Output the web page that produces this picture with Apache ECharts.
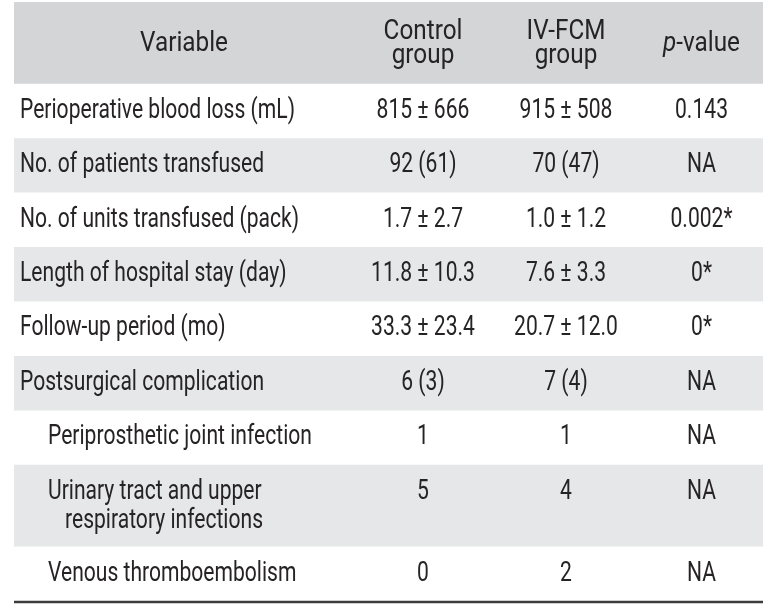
<!DOCTYPE html>
<html>
<head>
<meta charset="utf-8">
<script src="https://cdn.jsdelivr.net/npm/echarts@6/dist/echarts.min.js"></script>
<style>
html,body{margin:0;padding:0;background:#fff;}
#chart{width:781px;height:609px;}
</style>
</head>
<body>
<div id="chart"></div>
<script>
// ---- data ----
const headers = ['Variable', 'Control\ngroup', 'IV-FCM\ngroup', '{i|p}-value'];
const categories = [
  'Perioperative blood loss (mL)',
  'No. of patients transfused',
  'No. of units transfused (pack)',
  'Length of hospital stay (day)',
  'Follow-up period (mo)',
  'Postsurgical complication',
  'Periprosthetic joint infection',
  'Urinary tract and upper\nrespiratory infections',
  'Venous thromboembolism'
];
const indentLevels = [0, 0, 0, 0, 0, 0, 1, 1, 1];
const controlGroup = ['815 ± 666', '92 (61)', '1.7 ± 2.7', '11.8 ± 10.3', '33.3 ± 23.4', '6 (3)', '1', '5', '0'];
const ivfcmGroup = ['915 ± 508', '70 (47)', '1.0 ± 1.2', '7.6 ± 3.3', '20.7 ± 12.0', '7 (4)', '1', '4', '2'];
const pValues = ['0.143', 'NA', '0.002*', '0*', '0*', 'NA', 'NA', 'NA', 'NA'];

// ---- layout / style ----
const colWidths = [340, 138, 148, 123];
const FONT = "Roboto, 'DejaVu Sans Condensed', sans-serif";
const FW = 400;
const FS = 27;
const FS_HEAD = 28;
const TEXT = '#262324';
const HEAD_FILL = '#d4d5d7';
const BAND_FILL = '#e6e7e8';

// horizontal condensation so the face matches the condensed original
const cv = document.createElement('canvas').getContext('2d');
cv.font = FW + ' ' + FS + 'px ' + FONT;
const SX = 275 / cv.measureText('Perioperative blood loss (mL)').width;
cv.font = FW + ' ' + FS_HEAD + 'px ' + FONT;
const SX_HEAD = 88 / cv.measureText('Variable').width;

// build rows: header + body
const rows = [headers].concat(categories.map((c, i) => [c, controlGroup[i], ivfcmGroup[i], pValues[i]]));
const rowUnits = rows.map(r => {
  const lines = Math.max.apply(null, r.map(t => t.split('\n').length));
  return 1 + 0.5 * (lines - 1);
});
const data = [];
let acc = 0;
rowUnits.forEach((u, i) => { data.push([0, acc, acc + u, i]); acc += u; });
const totalUnits = acc;
const totalWidth = colWidths.reduce((a, b) => a + b, 0);

function txtEl(text, x, y, align, fs, sx, lineHeight) {
  return {
    type: 'text', x: x, y: y, scaleX: sx,
    style: {
      text: text, x: 0, y: 0, align: align, verticalAlign: 'middle',
      font: FW + ' ' + fs + 'px ' + FONT, fill: TEXT, lineHeight: lineHeight || fs * 1.2,
      rich: { i: { fontStyle: 'italic', fontSize: fs, fontWeight: FW, fontFamily: FONT, fill: TEXT, lineHeight: lineHeight || fs * 1.2 } }
    }
  };
}

const chart = echarts.init(document.getElementById('chart'));
chart.setOption({
  animation: false,
  grid: { left: 14, right: 18, top: 2, bottom: 8 },
  xAxis: { type: 'value', min: 0, max: totalWidth, show: false },
  yAxis: { type: 'value', min: 0, max: totalUnits, inverse: true, show: false },
  series: [{
    type: 'custom',
    data: data,
    encode: { x: 0, y: [1, 2] },
    renderItem: function (params, api) {
      const idx = api.value(3);
      const y0 = api.coord([0, api.value(1)])[1];
      const y1 = api.coord([0, api.value(2)])[1];
      const unitPx = api.size([0, 1])[1];
      const cs = params.coordSys;
      const children = [];
      const fill = idx === 0 ? HEAD_FILL : (idx % 2 === 0 ? BAND_FILL : null);
      if (fill) {
        children.push({ type: 'rect', shape: { x: cs.x, y: y0, width: cs.width, height: y1 - y0 }, style: { fill: fill } });
      }
      const row = rows[idx];
      let cx = 0;
      row.forEach((txt, c) => {
        const xl = api.coord([cx, 0])[0];
        const xr = api.coord([cx + colWidths[c], 0])[0];
        cx += colWidths[c];
        if (idx === 0) {
          children.push(txtEl(txt, (xl + xr) / 2, (y0 + y1) / 2 + 1, 'center', FS_HEAD, SX_HEAD, 24));
        } else if (c === 0) {
          const lines = txt.split('\n');
          const ind = indentLevels[idx - 1];
          lines.forEach((ln, j) => {
            children.push(txtEl(ln, xl + 6 + ind * 28 + (j > 0 ? 17 : 0), y0 + unitPx / 2 + j * 29, 'left', FS, SX));
          });
        } else {
          children.push(txtEl(txt, (xl + xr) / 2, y0 + unitPx / 2, 'center', FS, SX));
        }
      });
      if (idx === rows.length - 1) {
        children.push({ type: 'line', shape: { x1: cs.x, y1: y1 + 1, x2: cs.x + cs.width, y2: y1 + 1 }, style: { stroke: '#3c3c3c', lineWidth: 2.5 } });
      }
      return { type: 'group', children: children };
    }
  }]
});
</script>
</body>
</html>
